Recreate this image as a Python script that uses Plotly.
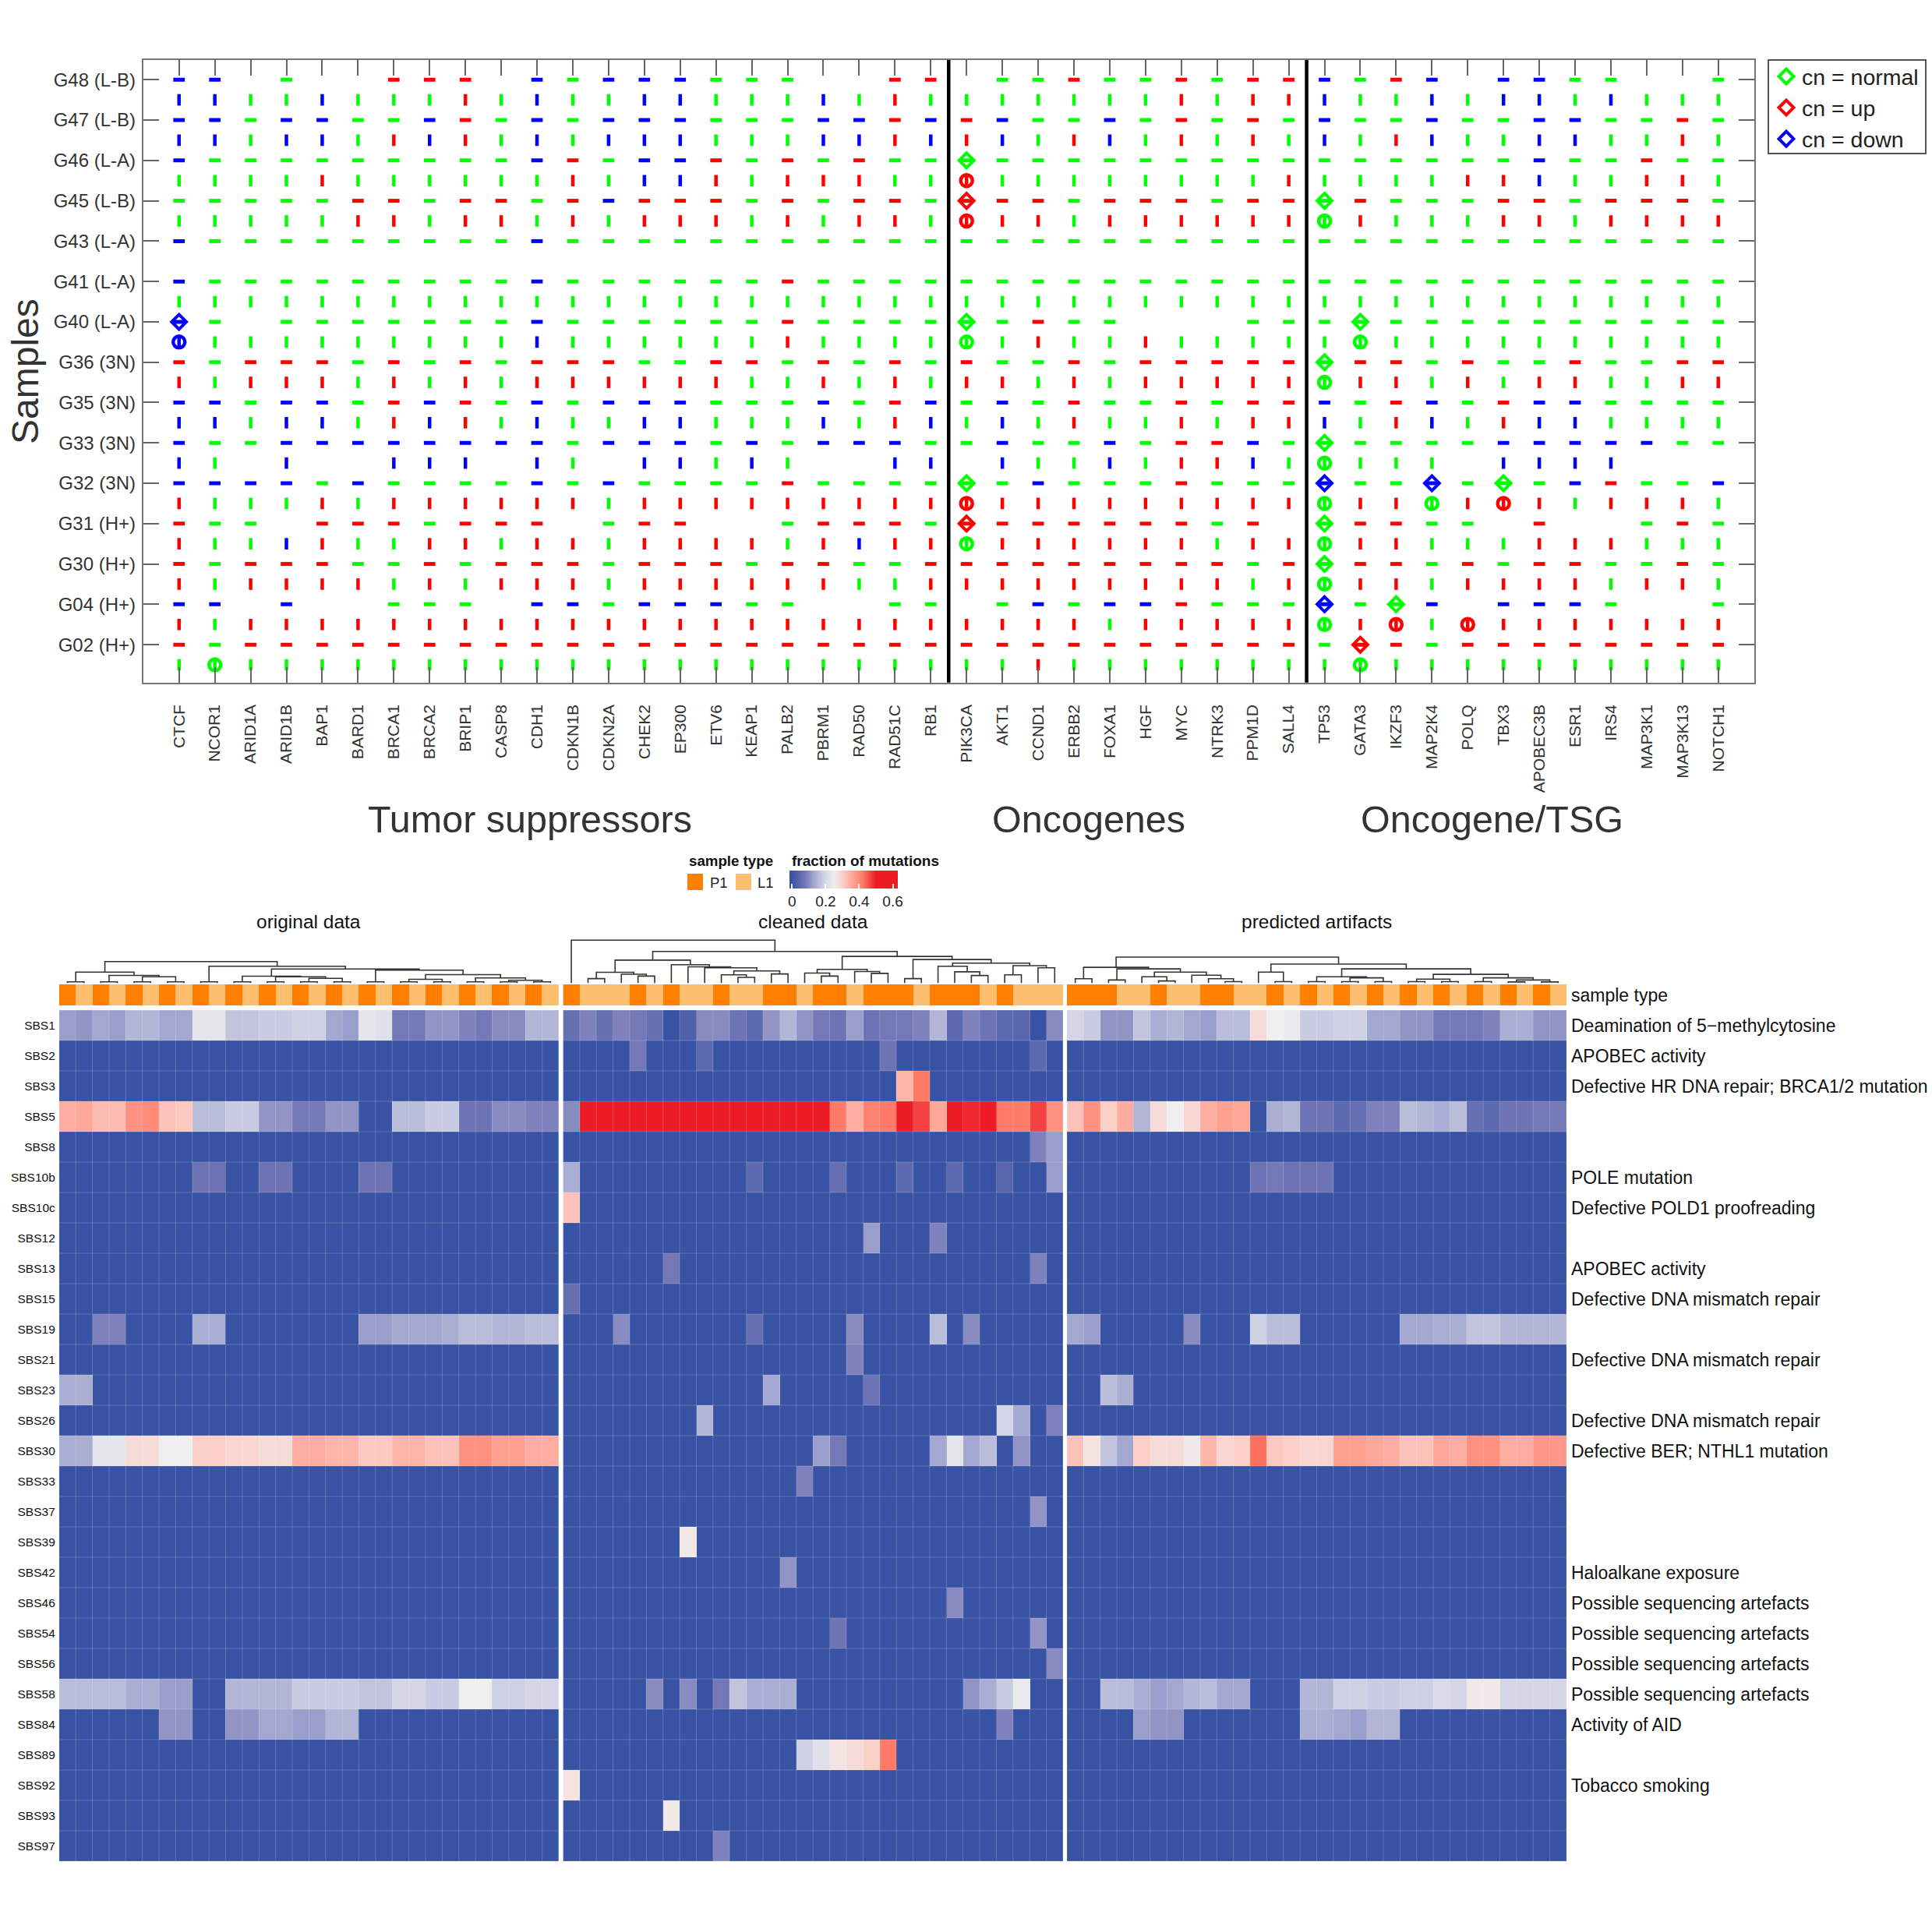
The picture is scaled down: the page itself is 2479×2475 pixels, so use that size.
import numpy as np
import plotly.graph_objects as go

W, H = 2479, 2475

# ---------- top panel data ----------
GENES = ["CTCF","NCOR1","ARID1A","ARID1B","BAP1","BARD1","BRCA1","BRCA2","BRIP1","CASP8","CDH1","CDKN1B","CDKN2A","CHEK2","EP300","ETV6","KEAP1","PALB2","PBRM1","RAD50","RAD51C","RB1",
         "PIK3CA","AKT1","CCND1","ERBB2","FOXA1","HGF","MYC","NTRK3","PPM1D","SALL4",
         "TP53","GATA3","IKZF3","MAP2K4","POLQ","TBX3","APOBEC3B","ESR1","IRS4","MAP3K1","MAP3K13","NOTCH1"]
SAMPLES = ["G48 (L-B)","G47 (L-B)","G46 (L-A)","G45 (L-B)","G43 (L-A)","G41 (L-A)","G40 (L-A)","G36 (3N)","G35 (3N)","G33 (3N)","G32 (3N)","G31 (H+)","G30 (H+)","G04 (H+)","G02 (H+)"]
# one line per row, one letter per gene: g/r/b copy number, '.' nothing; capitals are mutated genes
STATUS = [
 "bb.g..rrr.bgbbb ggg..rr .ggrggrgrr bgrb.bbgg..g",
 "bbggbgggrgbggbb gggbgrg ggggggrgrr bggbgbbgbggg",
 "bbgbbggbrgbgbbb gggbbrb rbggbgrgrg bggbggbbggrg",
 "bbgbbgrbrgbgbbb gggbbrb rbgrbgrgrg bgrbggbbggrg",
 "bgggggggggbrgbb rgrgrgg Ggggggggggg"[:34] + " ggggggbggrgg",
 "ggggrggggggrgbb rgrrrgg Rggggggggr ggggrrbggrrg",
 "gggggrrgrrgrbrr rgrgrrg Rrrgrrrgrr Grgggrrgrrrg",
 "gggggrrgrrgrgrr rgrgrrg Rrrgrrrrrr Grgggrrgrrrr",
 "bgggggggggbgggg ggggggg gggggggggg gggggggggggg",
 "............... ....... .......... ............",
 "bgggggggggbgggg ggrgggg gggggggggg gggggggggggg",
 "ggggggggggggggg ggggggg gggggggggg gggggggggggg",
 "Bg.gggggggbgggg ggrgggg Ggrgg...gg gGgggggggggg",
 "Bgggggggggbgggg ggrgggg Ggrggrgggg gGgggggggggg",
 "rgrrrgrgrgrrrgg rrgrgrg rggrgrrrrr Grrgrggrggrr",
 "rgrrrgrgrgrrrrr rggrgrg rrgrgrrrrr Grrgrgrrggrr",
 "bbgbbgrbrgbgbbb gggbgrb gbgrggrgrr bgrbgrbbgggg",
 "bbgbbgrbrgbggbb gggbgrb gbgrggrgrr bgrbgrbbgggg",
 "bggbbbbbbbbgbbb gbgbbbg gbggbgrrbg Gggggbbbbbgg",
 "bg.b..bbb.bg.bb gbg..bb .bggbgrrbg Gggg.bbbb...",
 "bbbbgbggggbgbgg ggrgggg Ggbgggrggg BggBgGgbrggb",
 "rgggrgrrrrrrgrr rrrrrrr Rrrrrrrrrr GrrGrRrgrrrg",
 "rgg.rrrgrrr.grr ..grrrg Rrrrrrrgr. Grrgg.r..grg",
 "rggbrggrrgrrgrr rrgrbrr Grrrrrrgrr Grrgggrrrggg",
 "rgrrrggrgrrrgrr rgrrggr rrrrrrrrgr Grrgrgrrggrg",
 "rgrrrrgrgrrrgrr rrrrggr rrrrrrrrgr Grrgrrrrgrrg",
 "bb.b..ggg.bbgbb bgg..gg .gbgbbrggg BgGb.bbbg..g",
 "rgrrrrrrrrrrrrr rrrrrrr rrrrgrrrrr GrRgRrrrrrrr",
 "rgrrrrrrrrrrrrr rrrrrrr rrrrrrrrrr gRrgrrrrrrrr",
 "gGggggggggggggg ggggggg ggrggggggg gGgggggggggg",
]
STATUS = [s.replace(" ", "") for s in STATUS]
assert all(len(s) == 44 for s in STATUS), [len(s) for s in STATUS]

# ---------- heat map data ----------
SIGNATURES = ["SBS1","SBS2","SBS3","SBS5","SBS8","SBS10b","SBS10c","SBS12","SBS13","SBS15","SBS19","SBS21","SBS23","SBS26","SBS30","SBS33","SBS37","SBS39","SBS42","SBS46","SBS54","SBS56","SBS58","SBS84","SBS89","SBS92","SBS93","SBS97"]
AETIOLOGY = ["Deamination of 5\u2212methylcytosine","APOBEC activity","Defective HR DNA repair; BRCA1/2 mutation","","","POLE mutation","Defective POLD1 proofreading","","APOBEC activity","Defective DNA mismatch repair","","Defective DNA mismatch repair","","Defective DNA mismatch repair","Defective BER; NTHL1 mutation","","","","Haloalkane exposure","Possible sequencing artefacts","Possible sequencing artefacts","Possible sequencing artefacts","Possible sequencing artefacts","Activity of AID","","Tobacco smoking","",""]

TYPE_ORIGINAL = list("PLPLPLPLPLPLPLPLPLPLPLPLPLPLPL")
TYPE_CLEANED = list("PLLLPLPLLPLLPPLPPLPPPLPPPLPLLL")
TYPE_ARTIFACT = list("PPPLLPLLPPLLPLPLPLPLPLPLPLPLPL")

ORIGINAL = {
 "SBS1": [.12,.11,.13,.12,.15,.15,.13,.13,.23,.23,.17,.17,.18,.18,.19,.19,.13,.12,.23,.22,.08,.08,.11,.11,.09,.08,.10,.10,.15,.15],
 "SBS5": [.35,.36,.33,.33,.39,.40,.32,.31,.16,.16,.18,.18,.11,.11,.08,.08,.11,.11,0,0,.16,.16,.18,.18,.07,.07,.10,.10,.09,.09],
 "SBS10b": [0,0,0,0,0,0,0,0,.07,.07,0,0,.07,.07,0,0,0,0,.07,.07,0,0,0,0,0,0,0,0,0,0],
 "SBS19": [0,0,.09,.09,0,0,0,0,.14,.14,0,0,0,0,0,0,0,0,.12,.12,.13,.13,.13,.14,.16,.16,.15,.15,.16,.16],
 "SBS23": [.14,.14,0,0,0,0,0,0,0,0,0,0,0,0,0,0,0,0,0,0,0,0,0,0,0,0,0,0,0,0],
 "SBS30": [.14,.14,.23,.23,.28,.28,.25,.25,.30,.30,.29,.29,.28,.28,.35,.35,.34,.34,.31,.31,.34,.34,.32,.32,.39,.39,.37,.37,.35,.35],
 "SBS58": [.16,.16,.16,.16,.14,.14,.12,.12,0,0,.15,.15,.15,.15,.18,.18,.18,.18,.17,.17,.20,.20,.18,.18,.25,.25,.19,.19,.20,.20],
 "SBS84": [0,0,0,0,0,0,.11,.11,0,0,.11,.11,.13,.13,.12,.12,.15,.15,0,0,0,0,0,0,0,0,0,0,0,0],
}
CLEANED = {
 "SBS1": [.06,.09,.06,.09,.08,.06,0,.03,.10,.10,.07,.05,.11,.15,.11,.08,.07,.12,.07,.08,.08,.09,.15,.05,.09,.07,.05,.04,0,.10],
 "SBS2": [0,0,0,0,.08,0,0,0,.05,0,0,0,0,0,0,0,0,0,0,.07,0,0,0,0,0,0,0,0,.05,0],
 "SBS3": [0]*20+[.34,.42]+[0]*8,
 "SBS5": [.10]+[.5]*15+[.42,.35,.41,.42,.5,.47,.36,.5,.49,.5,.42,.42,.47,.39],
 "SBS8": [0]*28+[.09,.12],
 "SBS10b": [.14,0,0,0,0,0,0,0,0,0,0,.05,0,0,0,0,.06,0,0,0,.05,0,0,.05,0,0,.04,0,0,.12],
 "SBS10c": [.32]+[0]*29,
 "SBS12": [0]*18+[.12,0,0,0,.09]+[0]*7,
 "SBS13": [0]*6+[.08]+[0]*21+[.09,0],
 "SBS15": [.06]+[0]*29,
 "SBS19": [0,0,0,.10,0,0,0,0,0,0,0,.06,0,0,0,0,0,.10,0,0,0,0,.16,0,.10,0,0,0,0,0],
 "SBS21": [0]*17+[.09]+[0]*12,
 "SBS23": [0]*12+[.13]+[0]*5+[.07]+[0]*11,
 "SBS26": [0]*8+[.15]+[0]*17+[.20,.13,0,.09],
 "SBS30": [0]*15+[.12,.08]+[0]*5+[.13,.23,.13,.16,0,.11,0,0],
 "SBS33": [0]*14+[.09]+[0]*15,
 "SBS37": [0]*28+[.11,0],
 "SBS39": [0]*7+[.26]+[0]*22,
 "SBS42": [0]*13+[.11]+[0]*16,
 "SBS46": [0]*23+[.10]+[0]*6,
 "SBS54": [0]*16+[.07]+[0]*11+[.11,0],
 "SBS56": [0]*29+[.10],
 "SBS58": [0,0,0,0,0,.10,0,.10,0,.08,.17,.14,.14,.14,0,0,0,0,0,0,0,0,0,0,.11,.14,.18,.24,0,0],
 "SBS84": [0]*26+[.09]+[0]*3,
 "SBS89": [0]*14+[.19,.22,.27,.28,.30,.42]+[0]*10,
 "SBS92": [.27]+[0]*29,
 "SBS93": [0]*6+[.26]+[0]*23,
 "SBS97": [0]*9+[.09]+[0]*20,
}
ARTIFACT = {
 "SBS1": [.20,.18,.11,.11,.17,.14,.15,.13,.12,.16,.16,.28,.25,.24,.18,.18,.19,.19,.13,.13,.11,.11,.08,.08,.08,.09,.14,.14,.11,.11],
 "SBS5": [.32,.39,.30,.35,.15,.28,.25,.29,.35,.37,.36,0,.14,.15,.07,.07,.05,.06,.09,.09,.16,.15,.14,.16,.06,.05,.07,.07,.08,.08],
 "SBS10b": [0]*11+[.07,.08,.07,.07,.07]+[0]*14,
 "SBS19": [.13,.12,0,0,0,0,0,.10,0,0,0,.19,.16,.16,0,0,0,0,0,0,.13,.13,.14,.14,.17,.17,.15,.15,.15,.15],
 "SBS23": [0,0,.16,.14]+[0]*26,
 "SBS30": [.32,.27,.17,.13,.30,.28,.28,.26,.34,.29,.30,.43,.31,.30,.29,.29,.37,.37,.36,.35,.32,.32,.36,.35,.39,.39,.35,.35,.38,.38],
 "SBS58": [0,0,.16,.16,.14,.12,.13,.15,.16,.13,.13,0,0,0,.15,.15,.19,.19,.18,.18,.19,.19,.21,.20,.26,.26,.20,.20,.20,.20],
 "SBS84": [0,0,0,0,.12,.11,.11,0,0,0,0,0,0,0,.14,.14,.13,.12,.15,.15]+[0]*10,
}

# dendrograms: (merge height, left, right); a leaf is a column index
def p(a, b, h=1.7):
    return (h, a, b)

TREE_ORIGINAL = (27.7,
    (14.3, p(0,1), (10, p(2,3), (8.3, p(4,5), p(6,7)))),
    (21.7, p(8,9), (18.3,
        (9, p(10,11), (8.3, p(12,13), (6.3, p(14,15), p(16,17)))),
        (16.7, p(18,19), (11, (5, p(20,21), p(22,23)), (6.7, p(24,25), (3.7, p(26,27), p(28,29))))))))
TREE_CLEANED = (55.3, 0, (40.7,
    (29.6,
        (14, (5.9, 1, 2), (11.5, 3, (9.1, 4, 5))),
        (23.7, 6, (21, 7, (19.8, 8, (15.8, (10.7, 9, (7.5, 10, 11)), (11.9, 12, 13)))))),
    (34.4,
        (17.8, (13, 14, (9.1, 15, 16)), (15, 17, (12.6, 18, 19))),
        (30.4, (5.9, 20, 21),
            (25.7, (21.7, 22, (14.6, 23, (9.9, 24, 25))),
                   (22.5, (10.7, 26, 27), (19.8, 28, 29)))))))
TREE_ARTIFACT = (33.5,
    (20.4, (5.7, 0, 1), (18.4, (4.1, 2, 3), (14.3,
        (8.2, 4, (2.9, 5, 6)),
        (10.2, 7, (5.7, 8, (2, 9, 10)))))),
    (24.5, (14.3, 11, (2, 12, 13)),
        (18.4,
            (8.2, (2, 14, 15), (6.9, (2, 16, 17), (2, 18, 19))),
            (11.4, (5.3, (2, 20, 21), (2, 22, 23)), (6.9, (2, 24, 25), (4.1, (1.6, 26, 27), (1.6, 28, 29)))))))

# ---------- styles ----------
COLORS = {"g": "#00FF00", "r": "#FF0000", "b": "#0000FF"}
NAMES = {"g": "cn = normal", "r": "cn = up", "b": "cn = down"}
CMIN, CMAX = -0.015, 0.63
def stop(v):
    return (v - CMIN) / (CMAX - CMIN)
BLUE_RED = [[0.0, "#3953A4"], [stop(0), "#3953A4"], [stop(0.08), "#7478B6"], [stop(0.13), "#A4A7CF"], [stop(0.18), "#C9CBE2"], [stop(0.25), "#EFEFEF"],
            [stop(0.30), "#FBD0C9"], [stop(0.36), "#FFA799"], [stop(0.42), "#FF7B68"], [stop(0.5), "#ED1C24"], [1.0, "#ED1C24"]]
FONT = "Liberation Sans, Arial, sans-serif"
DARK = "#262626"

def dx(a, b):
    return [a / W, b / W]
def dy(a, b):
    return [1 - b / H, 1 - a / H]

fig = go.Figure()

# ---------- top panel marks ----------
for c in "grb":
    dash_x, dash_y, bar_x, bar_y, dia_x, dia_y, cir_x, cir_y = [], [], [], [], [], [], [], []
    for r, line in enumerate(STATUS):
        for j, ch in enumerate(line):
            if ch.lower() != c:
                continue
            if r % 2 == 0:
                dash_x.append(j + 1); dash_y.append(r)
                if ch.isupper():
                    dia_x.append(j + 1); dia_y.append(r)
            else:
                bar_x.append(j + 1); bar_y.append(r)
                if ch.isupper():
                    cir_x.append(j + 1); cir_y.append(r)
    col = COLORS[c]
    fig.add_trace(go.Scatter(x=dash_x, y=dash_y, mode="markers", showlegend=False, hoverinfo="skip",
                             marker=dict(symbol="line-ew", size=10.5, line=dict(color=col, width=5))))
    fig.add_trace(go.Scatter(x=bar_x, y=bar_y, mode="markers", showlegend=False, hoverinfo="skip",
                             marker=dict(symbol="line-ns", size=10.5, line=dict(color=col, width=4.5))))
    fig.add_trace(go.Scatter(x=cir_x, y=cir_y, mode="markers", showlegend=False, hoverinfo="skip",
                             marker=dict(symbol="circle-open", size=15, color=col, line=dict(color=col, width=4.5))))
    fig.add_trace(go.Scatter(x=dia_x, y=dia_y, mode="markers", name=NAMES[c], showlegend=True, hoverinfo="skip",
                             marker=dict(symbol="diamond-open", size=14.5, color=col, line=dict(color=col, width=4))))

# ---------- heat maps ----------
def matrix(d):
    return np.array([d.get(s, [0] * 30) for s in SIGNATURES], dtype=float)

def gridlines(nx, ny):
    xs, ys = [], []
    for i in range(nx + 1):
        xs += [i - .5, i - .5, None]; ys += [-.5, ny - .5, None]
    for i in range(ny + 1):
        xs += [-.5, nx - .5, None]; ys += [i - .5, i - .5, None]
    return xs, ys

def dendro(node, xs, ys):
    if not isinstance(node, tuple):
        return float(node), 0.0
    h, a, b = node
    xa, ha = dendro(a, xs, ys)
    xb, hb = dendro(b, xs, ys)
    xs += [xa, xa, xb, xb, None]
    ys += [ha, h, h, hb, None]
    return (xa + xb) / 2, h

panels = [("x2", "y2", "y3", ORIGINAL, TYPE_ORIGINAL, TREE_ORIGINAL),
          ("x3", "y2", "y3", CLEANED, TYPE_CLEANED, TREE_CLEANED),
          ("x4", "y5", "y6", ARTIFACT, TYPE_ARTIFACT, TREE_ARTIFACT)]
for xa, ya, yb, data, types, tree in panels:
    fig.add_trace(go.Heatmap(z=matrix(data), x=list(range(30)), y=list(range(28)), xaxis=xa, yaxis=ya,
                             coloraxis="coloraxis", hoverinfo="skip"))
    gx, gy = gridlines(30, 28)
    fig.add_trace(go.Scatter(x=gx, y=gy, xaxis=xa, yaxis=ya, mode="lines", showlegend=False, hoverinfo="skip",
                             line=dict(color="rgba(255,255,255,0.2)", width=1)))
    fig.add_trace(go.Heatmap(z=[[1 if t == "L" else 0 for t in types]], x=list(range(30)), y=[0], xaxis=xa, yaxis=yb,
                             zmin=0, zmax=1, showscale=False, hoverinfo="skip",
                             colorscale=[[0, "#FF7F00"], [1, "#FDBF6F"]]))
    tx, ty = [], []
    dendro(tree, tx, ty)
    fig.add_trace(go.Scatter(x=tx, y=ty, xaxis=xa, yaxis="y4", mode="lines", showlegend=False, hoverinfo="skip",
                             line=dict(color="#333333", width=1.6)))

# ---------- layout ----------
yrows = list(range(0, 30, 2))
axis_off = dict(showgrid=False, zeroline=False, showticklabels=False, ticks="", showline=False)
rev = [27.5, -0.5]
panel_x = [(75.8, 717), (722.4, 1364), (1369, 2010)]
layout = dict(
    width=W, height=H, margin=dict(l=0, r=0, t=0, b=0), paper_bgcolor="white", plot_bgcolor="white",
    font=dict(family=FONT, color=DARK),
    xaxis=dict(domain=dx(183.8, 2250.7), range=[0, 45], tickmode="array", tickvals=list(range(1, 45)), ticktext=GENES,
               tickangle=-90, ticks="inside", ticklen=20, tickwidth=1.5, tickcolor="#666666", mirror="allticks",
               showline=True, linecolor="#777777", linewidth=2, showgrid=False, zeroline=False,
               tickfont=dict(size=21, color="#333333"), ticklabelstandoff=18, anchor="y"),
    yaxis=dict(domain=dy(77, 875.7), range=[29.876, -0.977], tickmode="array", tickvals=yrows, ticktext=SAMPLES,
               ticks="inside", ticklen=20, tickwidth=1.5, tickcolor="#666666", mirror="allticks",
               showline=True, linecolor="#777777", linewidth=2, showgrid=False, zeroline=False,
               tickfont=dict(size=24, color="#333333"), ticklabelstandoff=3, anchor="x"),
    xaxis2=dict(domain=dx(*panel_x[0]), range=[-.5, 29.5], anchor="y2", **axis_off),
    xaxis3=dict(domain=dx(*panel_x[1]), range=[-.5, 29.5], anchor="y2", **axis_off),
    xaxis4=dict(domain=dx(*panel_x[2]), range=[-.5, 29.5], anchor="y5", **axis_off),
    yaxis2=dict(domain=dy(1296, 2388), range=rev, anchor="x2", tickmode="array", tickvals=list(range(28)), ticktext=SIGNATURES,
                showgrid=False, zeroline=False, ticks="", tickfont=dict(size=15.5, color="#111111"), ticklabelstandoff=4),
    yaxis3=dict(domain=dy(1263, 1290), range=[-.5, .5], anchor="x2", **axis_off),
    yaxis4=dict(domain=dy(1201.5, 1261.5), range=[0, 60], anchor="x2", **axis_off),
    yaxis5=dict(domain=dy(1296, 2388), range=rev, anchor="x4", side="right", tickmode="array", tickvals=list(range(28)), ticktext=AETIOLOGY,
                showgrid=False, zeroline=False, ticks="", tickfont=dict(size=23, color="#111111"), ticklabelstandoff=5),
    yaxis6=dict(domain=dy(1263, 1290), range=[-.5, .5], anchor="x4", side="right", tickmode="array", tickvals=[0], ticktext=["sample type"],
                showgrid=False, zeroline=False, ticks="", tickfont=dict(size=23, color="#111111"), ticklabelstandoff=5),
    coloraxis=dict(cmin=CMIN, cmax=CMAX, colorscale=BLUE_RED,
                   colorbar=dict(orientation="h", x=1013 / W, xanchor="left", y=1 - 1117 / H, yanchor="top",
                                 len=139, lenmode="pixels", thickness=23, thicknessmode="pixels",
                                 tickmode="array", tickvals=[0, .2, .4, .6], ticktext=["0", "0.2", "0.4", "0.6"],
                                 ticks="inside", ticklen=6, tickcolor="white", tickwidth=1.5, outlinewidth=0,
                                 tickfont=dict(size=19, color="#222222"), xpad=0, ypad=0)),
    legend=dict(x=2272 / W, y=1 - 73 / H, xanchor="left", yanchor="top", borderwidth=0,
                bgcolor="rgba(0,0,0,0)", font=dict(size=28.5, color="#222222"), itemwidth=30, tracegroupgap=0),
    shapes=[dict(type="line", xref="x", yref="paper", x0=v, x1=v, y0=1 - 875.7 / H, y1=1 - 77 / H, line=dict(color="black", width=4.5))
            for v in (22.5, 32.5)] +
           [dict(type="rect", xref="paper", yref="paper", x0=882 / W, x1=902 / W, y0=1 - 1142 / H, y1=1 - 1121 / H, fillcolor="#FF7F00", line=dict(width=0)),
            dict(type="rect", xref="paper", yref="paper", x0=944 / W, x1=964 / W, y0=1 - 1142 / H, y1=1 - 1121 / H, fillcolor="#FDBF6F", line=dict(width=0)),
            dict(type="rect", xref="paper", yref="paper", x0=2269 / W, x1=2471 / W, y0=1 - 197 / H, y1=1 - 77 / H, line=dict(color="#555555", width=2))],
)

def note(text, x, y, size, anchor="center", color="#111111", bold=False, angle=0):
    return dict(text=f"<b>{text}</b>" if bold else text, x=x / W, y=1 - y / H, xref="paper", yref="paper", showarrow=False,
                xanchor=anchor, yanchor="middle", textangle=angle, font=dict(size=size, color=color, family=FONT))

layout["annotations"] = [
    note("Samples", 32, 477, 48, color="#333333", angle=-90),
    note("Tumor suppressors", 680, 1051, 48.5, color="#333333"),
    note("Oncogenes", 1397, 1051, 48.5, color="#333333"),
    note("Oncogene/TSG", 1914, 1051, 48.5, color="#333333"),
    note("original data", 396, 1182, 24.5),
    note("cleaned data", 1043, 1182, 24.5),
    note("predicted artifacts", 1689, 1182, 24.5),
    note("sample type", 882, 1104, 18.7, anchor="left", bold=True),
    note("fraction of mutations", 1014, 1104, 19, anchor="left", bold=True),
    note("P1", 909, 1132, 18.5, anchor="left", color="#222222"),
    note("L1", 970, 1132, 18.5, anchor="left", color="#222222"),
]
fig.update_layout(**layout)
fig.write_html("out.html", config=dict(displayModeBar=False), post_script="document.body.style.margin='0';")
